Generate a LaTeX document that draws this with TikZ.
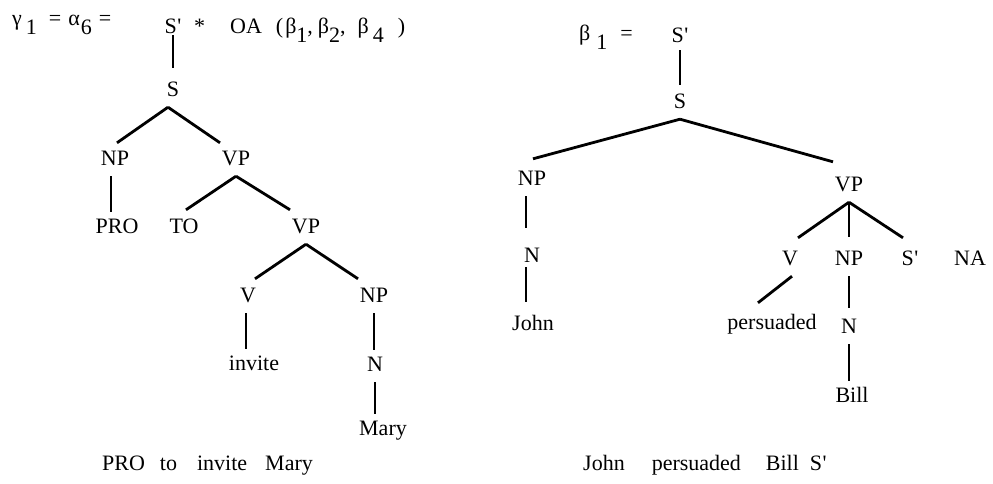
\documentclass[tikz,border=0pt]{standalone}
\usepackage{fontspec}
\setmainfont{Liberation Serif}
\newcommand\lw[1]{\raisebox{-9pt}{#1}}
\newcommand\prm{\kern0.5pt\textquotesingle}
\begin{document}
\begin{tikzpicture}[x=1pt,y=-1pt,
  tn/.style={anchor=base, inner xsep=1pt, inner ysep=6pt, text height=15pt, text depth=5pt, font=\fontsize{22}{26}\selectfont},
  tl/.style={anchor=base west, inner sep=0pt, font=\fontsize{22}{26}\selectfont},
  ln/.style={line width=2.8pt}]
\useasboundingbox (0,0) rectangle (993,483);
% ---------- left tree ----------
\node[tl] (t1) at (12,25) {γ\hspace{4pt}\lw{1}\hspace{12pt}=\hspace{7pt}α\hspace{1pt}\lw{6}\hspace{7pt}=};
\node[tn] (sp1) at (173,33) {S\prm};
\node[tl] (t2) at (194,33) {*\hspace{25pt}OA\hspace{14pt}(\hspace{2pt}β\lw{1},\hspace{5pt}β\lw{2},\hspace{12pt}β\hspace{4pt}\lw{4}\hspace{14pt})};
\node[tn] (s1) at (173,96) {S};
\node[tn] (np1) at (115,165) {NP};
\node[tn] (vp1) at (236,165) {VP};
\node[tn] (pro) at (117,233) {PRO};
\node[tn] (to) at (184,233) {TO};
\node[tn] (vp2) at (306,233) {VP};
\node[tn] (v1) at (248,302) {V};
\node[tn] (np2) at (374,302) {NP};
\node[tn] (inv) at (254,370) {invite};
\node[tn] (n1) at (375,371) {N};
\node[tn] (mary) at (383,435) {Mary};
\node[tl] (c1) at (102,470) {PRO\hspace{15pt}to\hspace{20pt}invite\hspace{18pt}Mary};

\draw[ln,shorten <=-9pt,shorten >=7pt] (sp1.south) -- (sp1.south |- s1.north);
\draw[ln] ([xshift=-5pt]s1.south) -- ([xshift=2pt,yshift=1pt]np1.north);
\draw[ln] ([xshift=-5pt]s1.south) -- ([xshift=-16pt,yshift=1pt]vp1.north);
\draw[ln] ([xshift=-4pt]np1.south) -- ([xshift=-4pt]np1.south |- pro.north);
\draw[ln] (vp1.south) -- ([xshift=2pt,yshift=2pt]to.north);
\draw[ln] (vp1.south) -- ([xshift=-16pt,yshift=2pt]vp2.north);
\draw[ln] (vp2.south) -- ([xshift=7pt,yshift=2pt]v1.north);
\draw[ln] (vp2.south) -- ([xshift=-16pt,yshift=2pt]np2.north);
\draw[ln] ([xshift=-2pt]v1.south) -- ([xshift=-2pt]v1.south |- inv.north);
\draw[ln] (np2.south) -- (np2.south |- n1.north);
\draw[ln] (n1.south) -- (n1.south |- mary.north);
% ---------- right tree ----------
\node[tl] (t3) at (579,40) {β\hspace{6pt}\lw{1}\hspace{13pt}=};
\node[tn] (sp2) at (680,42) {S\prm};
\node[tn] (s2) at (680,108) {S};
\node[tn] (np3) at (532,185) {NP};
\node[tn] (vp3) at (849,191) {VP};
\node[tn] (n3) at (532,262) {N};
\node[tn] (john) at (533,330) {John};
\node[tn] (v2) at (790,265) {V};
\node[tn] (np4) at (849,265) {NP};
\node[tn] (sp3) at (910,265) {S\prm};
\node[tn] (na) at (970,265) {NA};
\node[tn] (pers) at (772,329) {persuaded};
\node[tn] (n4) at (849,333) {N};
\node[tn] (bill) at (852,402) {Bill};
\node[tl] (c2) at (583,470) {John\hspace{27pt}persuaded\hspace{25pt}Bill\hspace{11pt}S\prm};

\draw[ln,shorten <=-3pt,shorten >=2pt] (sp2.south) -- (sp2.south |- s2.north);
\draw[ln] (s2.south) -- ([xshift=1pt,yshift=5pt]np3.north);
\draw[ln] (s2.south) -- ([xshift=-16pt,yshift=8pt]vp3.north);
\draw[ln,shorten >=13pt] ([xshift=-6pt]np3.south) -- ([xshift=-6pt]np3.south |- n3.north);
\draw[ln,shorten <=-6pt,shorten >=7pt] ([xshift=-6pt]n3.south) -- ([xshift=-6pt]n3.south |- john.north);
\draw[ln] (vp3.south) -- ([xshift=8pt,yshift=6pt]v2.north);
\draw[ln,shorten >=7pt] (vp3.south) -- (vp3.south |- np4.north);
\draw[ln] (vp3.south) -- ([xshift=-7pt,yshift=6pt]sp3.north);
\draw[ln] ([xshift=2pt]v2.south) -- ([xshift=-14pt,yshift=5pt]pers.north);
\draw[ln,shorten >=4pt] (np4.south) -- (np4.south |- n4.north);
\draw[ln] (n4.south) -- (n4.south |- bill.north);
\end{tikzpicture}
\end{document}
